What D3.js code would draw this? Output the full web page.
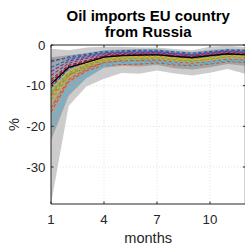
<!DOCTYPE html>
<html><head><meta charset="utf-8">
<script src="https://cdn.jsdelivr.net/npm/d3@7/dist/d3.min.js"></script>
<style>html,body{margin:0;padding:0;background:#fff;}svg{display:block;font-family:"Liberation Sans",Arial,sans-serif;}</style>
</head><body>
<script>
// ---- data ----
const months = [1,2,3,4,5,6,7,8,9,10,11,12];
const xTicks = [1,4,7,10];
const yTicks = [0,-10,-20,-30];
const titleLines = ["Oil imports EU country","from Russia"];
const xLabel = "months";
const yLabel = "%";

const lightTop    = [-0.9,-1.3,-0.6,-0.4,-0.4,-0.6,-0.6,-1.0,-1.3,-0.4,-0.2,-0.5];
const lightBottom = [-39.1,-15.0,-10.2,-8.3,-6.9,-7.1,-6.3,-7.0,-7.5,-6.8,-5.9,-7.1];
const darkTop     = [-3.0,-2.5,-2.0,-1.3,-1.1,-1.0,-1.0,-1.4,-1.7,-1.2,-0.9,-1.0];
const darkBottom  = [-23.5,-12.5,-8.2,-5.6,-5.1,-5.3,-4.9,-5.7,-6.0,-5.5,-4.7,-5.1];

const median = [-9.6,-5.5,-4.3,-3.0,-2.6,-2.5,-2.4,-2.8,-3.1,-2.6,-2.2,-2.4];

const countries = [
  [-4.2,-2.9,-2.2,-1.6,-1.4,-1.3,-1.3,-1.7,-2.0,-1.6,-1.2,-1.3],
  [-12.5,-7.5,-5.5,-4.5,-4.2,-4.0,-4.1,-4.6,-4.9,-4.5,-3.8,-4.0],
  [-13.0,-7.0,-5.0,-3.9,-3.5,-3.4,-3.3,-3.8,-4.2,-3.7,-3.0,-3.3],
  [-3.8,-3.2,-2.5,-1.9,-1.7,-1.5,-1.6,-2.0,-2.3,-1.8,-1.4,-1.5],
  [-11.5,-6.8,-4.8,-3.7,-3.3,-3.2,-3.1,-3.5,-3.9,-3.4,-2.8,-3.0],
  [-21.5,-11.5,-7.8,-5.2,-4.6,-4.4,-4.3,-4.8,-5.0,-4.6,-4.0,-4.3],
  [-8.5,-5.0,-3.8,-2.8,-2.4,-2.3,-2.3,-2.7,-3.0,-2.5,-2.1,-2.2],
  [-10.5,-5.8,-4.2,-3.0,-2.7,-2.6,-2.5,-2.9,-3.3,-2.8,-2.3,-2.5],
  [-15.5,-8.5,-6.0,-4.3,-3.9,-3.8,-3.7,-4.2,-4.5,-4.1,-3.5,-3.7],
  [-14.0,-7.8,-5.4,-3.6,-3.3,-3.1,-3.0,-3.4,-3.7,-3.3,-2.7,-2.9],
  [-7.5,-4.5,-3.3,-2.4,-2.1,-2.0,-2.0,-2.4,-2.7,-2.2,-1.8,-2.0],
  [-12.0,-7.2,-5.1,-3.4,-3.0,-2.9,-2.8,-3.2,-3.5,-3.0,-2.5,-2.7],
  [-18.5,-9.8,-6.8,-4.6,-4.2,-4.0,-3.9,-4.4,-4.7,-4.2,-3.6,-3.9],
  [-9.0,-5.3,-4.0,-2.6,-2.3,-2.2,-2.2,-2.6,-2.8,-2.4,-2.0,-2.1],
  [-5.5,-3.6,-2.8,-2.0,-1.8,-1.7,-1.7,-2.1,-2.4,-1.9,-1.5,-1.7],
  [-16.5,-9.0,-6.4,-5.0,-4.8,-4.7,-4.4,-4.9,-5.1,-4.7,-4.1,-4.3],
  [-11.0,-6.5,-4.6,-3.3,-3.0,-2.9,-2.8,-3.2,-3.6,-3.1,-2.6,-2.8],
  [-6.5,-4.0,-3.0,-2.2,-1.9,-1.9,-1.8,-2.2,-2.5,-2.0,-1.6,-1.8],
  [-13.5,-7.6,-5.3,-3.8,-3.4,-3.3,-3.2,-3.7,-4.0,-3.5,-2.9,-3.1],
  [-20.0,-10.8,-7.3,-4.9,-4.5,-4.3,-4.1,-4.6,-4.9,-4.4,-3.8,-4.1],
  [-10.0,-5.6,-4.3,-2.9,-2.6,-2.5,-2.4,-2.8,-3.1,-2.6,-2.2,-2.4]
];
const colors = ["#0072BD","#D95319","#EDB120","#7E2F8E","#77AC30","#4DBEEE","#A2142F"];

// ---- layout ----
const W = 245, H = 245;
const L = 51, R = 245.3, T = 45, B = 204;
const axisColor = "#262626";

const svg = d3.select("body").append("svg").attr("width", W).attr("height", H);

const x = d3.scaleLinear().domain([1,12]).range([L,R]);
const y = d3.scaleLinear().domain([-39.1,0]).range([B,T]);

svg.append("clipPath").attr("id","clip").append("rect")
  .attr("x",L).attr("y",T).attr("width",R-L).attr("height",B-T);

// grid
const grid = svg.append("g").attr("stroke","#d9d9d9").attr("stroke-width",0.8).attr("stroke-dasharray","1,2");
grid.selectAll(".gx").data(xTicks.slice(1)).enter().append("line")
  .attr("x1",d=>x(d)).attr("x2",d=>x(d)).attr("y1",T).attr("y2",B);
grid.selectAll(".gy").data(yTicks.slice(1)).enter().append("line")
  .attr("y1",d=>y(d)).attr("y2",d=>y(d)).attr("x1",L).attr("x2",R);

const plot = svg.append("g").attr("clip-path","url(#clip)");

const areaGen = (top,bot) => d3.area()
  .x((d,i)=>x(months[i])).y0((d,i)=>y(bot[i])).y1((d,i)=>y(top[i]));

plot.append("path").attr("d", areaGen(lightTop,lightBottom)(months)).attr("fill","#cccccc");
plot.append("path").attr("d", areaGen(darkTop,darkBottom)(months)).attr("fill","#a3a3a3");

const lineGen = d3.line().x((d,i)=>x(months[i])).y(d=>y(d));
plot.selectAll(".c").data(countries).enter().append("path")
  .attr("d", d=>lineGen(d))
  .attr("fill","none")
  .attr("stroke",(d,i)=>colors[i%colors.length])
  .attr("stroke-width",1.1)
  .attr("stroke-dasharray","3.5,2");

plot.append("path").attr("d", lineGen(median)).attr("fill","none")
  .attr("stroke","#000").attr("stroke-width",1.2);

// box
const box = svg.append("g").attr("stroke",axisColor).attr("stroke-width",1).attr("fill","none");
box.append("line").attr("x1",L).attr("x2",R).attr("y1",B).attr("y2",B);
box.append("line").attr("x1",L).attr("x2",L).attr("y1",T).attr("y2",B);
box.append("line").attr("x1",L).attr("x2",R).attr("y1",T).attr("y2",T);
box.append("line").attr("x1",R).attr("x2",R).attr("y1",T).attr("y2",B);

// ticks (inward)
const tl = 2.5;
xTicks.forEach(t=>{
  box.append("line").attr("x1",x(t)).attr("x2",x(t)).attr("y1",B).attr("y2",B-tl);
  box.append("line").attr("x1",x(t)).attr("x2",x(t)).attr("y1",T).attr("y2",T+tl);
});
yTicks.forEach(t=>{
  box.append("line").attr("y1",y(t)).attr("y2",y(t)).attr("x1",L).attr("x2",L+tl);
  box.append("line").attr("y1",y(t)).attr("y2",y(t)).attr("x1",R).attr("x2",R-tl);
});

// tick labels
svg.append("g").selectAll("text").data(xTicks).enter().append("text")
  .attr("x",d=>x(d)).attr("y",223.5).attr("text-anchor","middle")
  .attr("font-size",13.3).attr("fill",axisColor).text(d=>d);
svg.append("g").selectAll("text").data(yTicks).enter().append("text")
  .attr("x",45.5).attr("y",d=>y(d)).attr("dy","0.35em").attr("text-anchor","end")
  .attr("font-size",13.3).attr("fill",axisColor).text(d=>d===0?"0":"-"+Math.abs(d));

// labels
svg.append("text").attr("x",(L+R)/2).attr("y",242.5).attr("text-anchor","middle")
  .attr("font-size",14.6).attr("fill",axisColor).text(xLabel);
svg.append("text").attr("transform",`translate(18.5,${(T+B)/2}) rotate(-90)`)
  .attr("text-anchor","middle").attr("font-size",14.6).attr("fill",axisColor).text(yLabel);

// title
svg.append("g").selectAll("text").data(titleLines).enter().append("text")
  .attr("x",(L+R)/2).attr("y",(d,i)=>20.7+i*16.7).attr("text-anchor","middle")
  .attr("font-size",15).attr("font-weight","bold").attr("fill","#000").text(d=>d);
</script>
</body></html>
